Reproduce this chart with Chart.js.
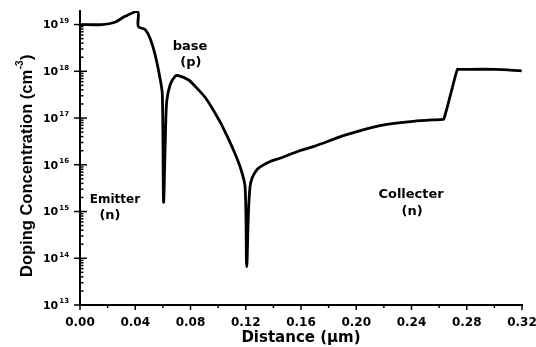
<!DOCTYPE html>
<html>
<head>
<meta charset="utf-8">
<script src="https://cdn.jsdelivr.net/npm/chart.js@4.4.1/dist/chart.umd.min.js"></script>
<style>
  html, body { margin: 0; padding: 0; background: #fff; }
  #wrap { width: 536px; height: 347px; }
</style>
</head>
<body>
<div id="wrap"><canvas id="dopingChart"></canvas></div>
<script>
// distance in um, doping in cm^-3
const distance = [0, 0.016, 0.0253, 0.0326, 0.0418, 0.0422, 0.0471, 0.0507, 0.0543, 0.0579,
  0.0596, 0.0605, 0.0619, 0.0628, 0.0652, 0.0688, 0.0712, 0.0784, 0.0833, 0.0917,
  0.1014, 0.106, 0.111, 0.1159, 0.1195, 0.1207, 0.1231, 0.128, 0.1376, 0.1448,
  0.159, 0.169, 0.1931, 0.2172, 0.2413, 0.2622, 0.2634, 0.2683, 0.2732, 0.2745,
  0.3005, 0.3198];
const doping = [1.0e19, 1.0e19, 1.12e19, 1.5e19, 1.9e19, 9.1e18, 7.8e18, 5.1e18, 2.3e18, 7.2e17,
  3.2e17, 1.6e15, 4.9e16, 2.3e17, 5.1e17, 7.8e17, 8.1e17, 6.6e17, 4.8e17, 2.5e17,
  8.3e16, 4.4e16, 2.1e16, 9.1e15, 3.4e15, 6.6e13, 3.4e15, 7.8e15, 1.17e16, 1.38e16,
  2.0e16, 2.45e16, 4.4e16, 6.9e16, 8.5e16, 9.4e16, 9.5e16, 3.2e17, 1.1e18, 1.1e18,
  1.1e18, 1.02e18];

const yExponents = [13, 14, 15, 16, 17, 18, 19];
const xTickStep = 0.04;

// region labels: text, x (um), y (log10 of cm^-3)
const regionText = ['Emitter', '(n)', 'base', '(p)', 'Collecter', '(n)'];
const regionX = [0.0253, 0.0217, 0.0796, 0.0803, 0.2397, 0.2404];
const regionY = [15.25, 14.91, 18.53, 18.19, 15.36, 14.99];

const points = distance.map((d, i) => ({x: d, y: doping[i]}));

const overlay = {
  id: 'overlay',
  afterDraw(chart) {
    const {ctx, chartArea: a, scales: {x, y}} = chart;
    ctx.save();
    ctx.strokeStyle = '#000';
    ctx.fillStyle = '#000';
    ctx.lineWidth = 1.5;

    // x tick marks (outward)
    for (let k = 0; k <= 16; k++) {
      const px = x.getPixelForValue(k * 0.02);
      ctx.beginPath();
      ctx.moveTo(px, a.bottom);
      ctx.lineTo(px, a.bottom + (k % 2 === 0 ? 5 : 3));
      ctx.stroke();
    }

    // y tick marks
    yExponents.forEach(e => {
      const py = y.getPixelForValue(Math.pow(10, e));
      ctx.beginPath();
      ctx.moveTo(a.left - 6, py);
      ctx.lineTo(a.left + 7, py);
      ctx.stroke();
      for (let m = 2; m <= 9; m++) {
        const v = m * Math.pow(10, e);
        if (v > y.max) break;
        const pm = y.getPixelForValue(v);
        ctx.beginPath();
        ctx.moveTo(a.left, pm);
        ctx.lineTo(a.left + 3.5, pm);
        ctx.stroke();
      }
    });

    // y labels 10^n
    ctx.textBaseline = 'alphabetic';
    ctx.textAlign = 'right';
    yExponents.forEach(e => {
      const py = y.getPixelForValue(Math.pow(10, e));
      ctx.font = 'bold 7px "DejaVu Sans"';
      const ew = ctx.measureText(String(e)).width;
      ctx.fillText(String(e), a.left - 11, py - 1.7);
      ctx.font = 'bold 11px "DejaVu Sans"';
      ctx.fillText('10', a.left - 12 - ew, py + 3.8);
    });

    // y title with superscript
    ctx.save();
    ctx.translate(32, 277);
    ctx.rotate(-Math.PI / 2);
    ctx.textAlign = 'left';
    ctx.font = 'bold 16.5px "Liberation Sans", Arial, sans-serif';
    const main = 'Doping Concentration (cm';
    ctx.fillText(main, 0, 0);
    const w1 = ctx.measureText(main).width;
    ctx.font = 'bold 10px "Liberation Sans", Arial, sans-serif';
    ctx.fillText('-3', w1 + 0.5, -9);
    const w2 = ctx.measureText('-3').width;
    ctx.font = 'bold 16.5px "Liberation Sans", Arial, sans-serif';
    ctx.fillText(')', w1 + w2 + 1, 0);
    ctx.restore();

    // region labels
    ctx.textAlign = 'center';
    ctx.textBaseline = 'middle';
    regionText.forEach((t, i) => {
      ctx.font = (t === 'Emitter' ? 'bold 12px' : 'bold 13px') + ' "DejaVu Sans"';
      ctx.fillText(t, x.getPixelForValue(regionX[i]), y.getPixelForValue(Math.pow(10, regionY[i])));
    });
    ctx.restore();
  }
};

const ctx = document.getElementById('dopingChart');
new Chart(ctx, {
  type: 'line',
  data: {
    datasets: [{
      label: 'Doping',
      data: points,
      borderColor: '#000',
      borderWidth: 2.8,
      pointRadius: 0,
      fill: false,
      tension: 0.3
    }]
  },
  options: {
    responsive: true,
    maintainAspectRatio: false,
    animation: false,
    layout: { padding: { top: 11, right: 14, left: 0, bottom: 0 } },
    plugins: { legend: { display: false }, tooltip: { enabled: false } },
    scales: {
      x: {
        type: 'linear',
        min: 0,
        max: 0.32,
        grid: { display: false },
        border: { display: true, color: '#000', width: 2 },
        ticks: {
          stepSize: xTickStep,
          padding: 3,
          color: '#000',
          font: { family: 'DejaVu Sans', size: 12, weight: 'bold' },
          callback: v => v.toFixed(2)
        },
        title: {
          display: true,
          text: 'Distance (μm)',
          color: '#000',
          font: { family: 'DejaVu Sans', size: 15, weight: 'bold' },
          padding: 0
        },
        afterFit: s => { s.height = 42; s.paddingRight = 0; s.paddingLeft = 0; }
      },
      y: {
        type: 'logarithmic',
        min: 1e13,
        max: 1.95e19,
        grid: { display: false },
        border: { display: true, color: '#000', width: 2 },
        ticks: { color: 'rgba(0,0,0,0)', callback: v => '10^' + Math.round(Math.log10(v)) },
        afterBuildTicks: s => { s.ticks = yExponents.map(e => ({ value: Math.pow(10, e) })); },
        afterFit: s => { s.width = 80; }
      }
    }
  },
  plugins: [overlay]
});
</script>
</body>
</html>
